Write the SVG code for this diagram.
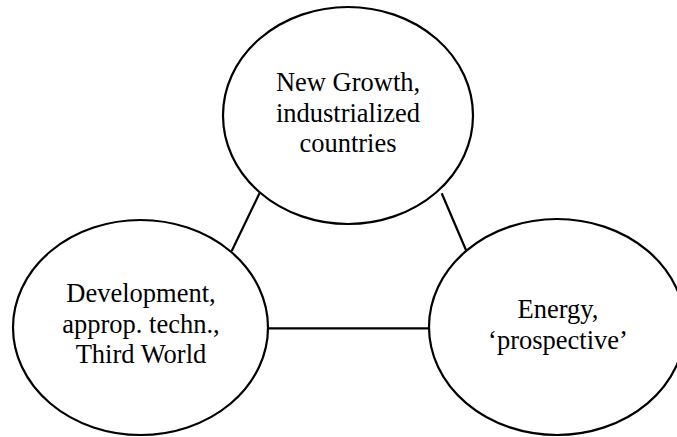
<svg xmlns="http://www.w3.org/2000/svg" width="677" height="437" viewBox="0 0 677 437">
<style>
.n{fill:#fff;stroke:#000;stroke-width:2.2}
.c{stroke:#000;stroke-width:2.2;fill:none}
.t{font-family:'Liberation Serif', 'DejaVu Serif', serif;font-size:26.5px;fill:#000;text-anchor:middle}
</style>
<rect width="677" height="437" fill="#fff"/>
<g id="connectors">
<line class="c" x1="259.5" y1="193.3" x2="231.7" y2="251"/>
<line class="c" x1="441.7" y1="193.3" x2="466.7" y2="251.7"/>
<line class="c" x1="267" y1="328.3" x2="430" y2="328.3"/>
</g>
<g id="node-top">
<ellipse class="n" cx="348" cy="115.5" rx="125" ry="108.5"/>
<text class="t" font-family="Liberation Serif, serif" x="348" y="91">New Growth,</text>
<text class="t" font-family="Liberation Serif, serif" x="348" y="121.5">industrialized</text>
<text class="t" font-family="Liberation Serif, serif" x="348" y="152">countries</text>
</g>
<g id="node-left">
<ellipse class="n" cx="140.5" cy="327.5" rx="127.5" ry="107.5"/>
<text class="t" font-family="Liberation Serif, serif" x="141" y="301.7">Development,</text>
<text class="t" font-family="Liberation Serif, serif" x="141" y="332.5">approp. techn.,</text>
<text class="t" font-family="Liberation Serif, serif" x="141" y="363.3">Third World</text>
</g>
<g id="node-right">
<ellipse class="n" cx="557" cy="327" rx="128" ry="108"/>
<text class="t" font-family="Liberation Serif, serif" x="558" y="318.3">Energy,</text>
<text class="t" font-family="Liberation Serif, serif" x="558" y="348.5">‘prospective’</text>
</g>
</svg>
